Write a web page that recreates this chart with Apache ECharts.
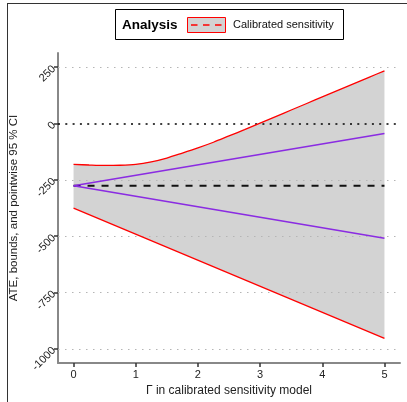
<!DOCTYPE html>
<html>
<head>
<meta charset="utf-8">
<script src="https://cdn.jsdelivr.net/npm/echarts@6/dist/echarts.min.js"></script>
<style>
  body { margin: 0; background: #fff; }
  #wrap { position: relative; width: 407px; height: 402px; }
  #chart { position: absolute; left: 0; top: 0; width: 407px; height: 402px; }
  #frame { position: absolute; left: 7px; top: 3px; right: 0; bottom: 0; border-left: 1.5px solid #333; border-top: 1.5px solid #333; pointer-events: none; }
</style>
</head>
<body>
<div id="wrap">
  <div id="chart"></div>
  <div id="frame"></div>
</div>
<script>
// Γ values for the calibrated upper bound
const gammaGrid = [0, 0.25, 0.5, 0.75, 1, 1.25, 1.5, 1.75, 2, 2.25, 2.5, 2.75, 3, 3.25, 3.5, 3.75, 4, 4.25, 4.5, 4.75, 5]
const upperCI = [-181, -184, -186, -185, -181, -170, -153, -131, -108, -83, -55, -27, 2, 31, 60, 89, 118, 147, 176, 205, 234]
// straight lines, only ends needed
const gammaEnds = [0, 5]
const lowerCI = [-375, -953]
const ateEstimate = [-276, -276]
const upperBoundAte = [-276, -44]
const lowerBoundAte = [-276, -509]

const xTicks = [0, 1, 2, 3, 4, 5]
const yTicks = [-1000, -750, -500, -250, 0, 250]
const gridValues = [-1000, -750, -500, -250, 250]

const font = "Liberation Sans, Arial, sans-serif"
const myChart = echarts.init(document.getElementById("chart"))

function pairs(xs, ys) {
  return xs.map((x, i) => [x, ys[i]])
}

const option = {
  animation: false,
  grid: { left: 58, right: 7, top: 53, bottom: 37 },
  xAxis: {
    type: "value",
    min: -0.25,
    max: 5.25,
    name: "\u0393 in calibrated sensitivity model",
    nameLocation: "middle",
    nameGap: 19,
    nameTextStyle: { fontFamily: font, fontSize: 12, color: "#222" },
    axisLine: { show: true, onZero: false, lineStyle: { color: "#888", width: 2 } },
    axisTick: { show: true, customValues: xTicks, length: 4, lineStyle: { color: "#333", width: 1.5 } },
    axisLabel: { customValues: xTicks, fontFamily: font, fontSize: 11, color: "#222", margin: 6 },
    splitLine: { show: false }
  },
  yAxis: {
    type: "value",
    min: -1063,
    max: 313,
    name: "ATE, bounds, and pointwise 95 % CI",
    nameLocation: "middle",
    nameGap: 35,
    nameTextStyle: { fontFamily: font, fontSize: 11.5, color: "#222" },
    axisLine: { show: true, onZero: false, lineStyle: { color: "#888", width: 2 } },
    axisTick: { show: true, customValues: yTicks, length: 4, lineStyle: { color: "#333", width: 1.5 } },
    axisLabel: {
      customValues: yTicks, rotate: 45, fontFamily: font, fontSize: 11, color: "#222", margin: 4,
      formatter: v => String(v)
    },
    splitLine: { show: false }
  },
  series: [
    {
      name: "band",
      type: "custom",
      z: 1,
      silent: true,
      data: [0],
      renderItem: function (params, api) {
        const top = gammaGrid.map((g, i) => api.coord([g, upperCI[i]]))
        const bottom = gammaEnds.map((g, i) => api.coord([g, lowerCI[i]])).reverse()
        return {
          type: "polygon",
          shape: { points: top.concat(bottom) },
          style: { fill: "#d3d3d3", stroke: null }
        }
      }
    },
    {
      name: "grid",
      type: "line",
      z: 2,
      data: [],
      markLine: {
        silent: true,
        symbol: ["none", "none"],
        label: { show: false },
        lineStyle: { color: "#b5b5b5", type: [1.5, 5.5], width: 1.2 },
        data: gridValues.map(v => ({ yAxis: v }))
      }
    },
    {
      name: "zero",
      type: "line",
      z: 3,
      data: [],
      markLine: {
        silent: true,
        symbol: ["none", "none"],
        label: { show: false },
        lineStyle: { color: "#000", type: [2, 5.3], width: 1.6 },
        data: [{ yAxis: 0 }]
      }
    },
    {
      name: "estimate",
      type: "line",
      z: 4,
      showSymbol: false,
      data: pairs(gammaEnds, ateEstimate),
      lineStyle: { color: "#111", width: 2, type: [7, 7] }
    },
    {
      name: "upper bound",
      type: "line",
      z: 5,
      showSymbol: false,
      data: pairs(gammaEnds, upperBoundAte),
      lineStyle: { color: "#8a2be2", width: 1.6 }
    },
    {
      name: "lower bound",
      type: "line",
      z: 5,
      showSymbol: false,
      data: pairs(gammaEnds, lowerBoundAte),
      lineStyle: { color: "#8a2be2", width: 1.6 }
    },
    {
      name: "Calibrated sensitivity",
      type: "line",
      z: 6,
      showSymbol: false,
      smooth: 0.3,
      data: pairs(gammaGrid, upperCI),
      lineStyle: { color: "#ff0000", width: 1.3 }
    },
    {
      name: "Calibrated sensitivity low",
      type: "line",
      z: 6,
      showSymbol: false,
      data: pairs(gammaEnds, lowerCI),
      lineStyle: { color: "#ff0000", width: 1.3 }
    }
  ],
  graphic: [
    {
      type: "rect",
      shape: { x: 115.5, y: 9.5, width: 228, height: 30 },
      style: { fill: "#fff", stroke: "#000", lineWidth: 1 }
    },
    {
      type: "text",
      x: 122, y: 25,
      style: { text: "Analysis", font: "bold 13.5px " + font, fill: "#000", verticalAlign: "middle" }
    },
    {
      type: "rect",
      shape: { x: 187.5, y: 17.5, width: 38, height: 15 },
      style: { fill: "#d3d3d3", stroke: "#ff0000", lineWidth: 1 }
    },
    {
      type: "line",
      shape: { x1: 191, y1: 25, x2: 223, y2: 25 },
      style: { stroke: "#ff0000", lineWidth: 1.6, lineDash: [6.5, 5.5] }
    },
    {
      type: "text",
      x: 233, y: 25,
      style: { text: "Calibrated sensitivity", font: "11px " + font, fill: "#111", verticalAlign: "middle" }
    }
  ]
}
myChart.setOption(option, true)
</script>
</body>
</html>
